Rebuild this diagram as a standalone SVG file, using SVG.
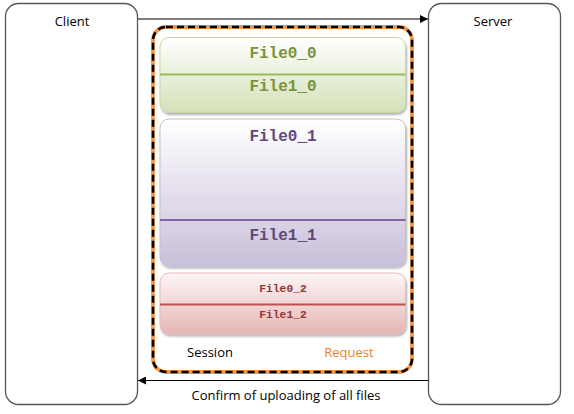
<svg xmlns="http://www.w3.org/2000/svg" width="574" height="414" viewBox="0 0 574 414">
<defs>
<style>
.actor{fill:#fff;stroke:#555;stroke-width:1.3}
.lbl{font-family:"Open Sans","Liberation Sans",sans-serif;font-size:13px;text-anchor:middle}
.mono{font-family:"Liberation Mono","Courier New",monospace;font-weight:bold;text-anchor:middle}
.conn{stroke:#000;stroke-width:1.2;fill:none}
</style>
<linearGradient id="gG" x1="0" y1="0" x2="0" y2="1"><stop offset="0" stop-color="#ffffff"/><stop offset="1" stop-color="#d3e1b8"/></linearGradient>
<linearGradient id="gP" x1="0" y1="0" x2="0" y2="1"><stop offset="0" stop-color="#ffffff"/><stop offset="1" stop-color="#c9bfd9"/></linearGradient>
<linearGradient id="gR" x1="0" y1="0" x2="0" y2="1"><stop offset="0" stop-color="#fdf6f6"/><stop offset="1" stop-color="#e5b6b5"/></linearGradient>
<filter id="sh" x="-5%" y="-5%" width="110%" height="115%"><feDropShadow dx="1" dy="2" stdDeviation="1.2" flood-color="#000" flood-opacity="0.3"/></filter>
<marker id="ah" viewBox="0 0 10 10" refX="10" refY="5" markerWidth="10" markerHeight="8" orient="auto" markerUnits="userSpaceOnUse"><path d="M0,0 L10,5 L0,10 z" fill="#000"/></marker>
</defs>
<rect width="574" height="414" fill="#fff"/>
<g id="client"><rect class="actor" x="5.5" y="3.5" width="132" height="401" rx="13"/><text class="lbl" x="72" y="26">Client</text></g>
<g id="server"><rect class="actor" x="428.5" y="3.5" width="132" height="401" rx="13"/><text class="lbl" x="493" y="26">Server</text></g>
<g id="connectors">
<line class="conn" x1="138" y1="19" x2="428" y2="19" marker-end="url(#ah)"/>
<line class="conn" x1="428" y1="380.5" x2="138" y2="380.5" marker-end="url(#ah)"/>
<text class="lbl" x="286" y="400">Confirm of uploading of all files</text>
</g>
<g id="request">
<rect x="153" y="27" width="259" height="345" rx="13" fill="#fff" stroke="#f79646" stroke-width="3.8"/>
<rect x="153" y="27" width="259" height="345" rx="13" fill="none" stroke="#000" stroke-width="2.6" stroke-dasharray="7 4"/>
<text class="lbl" x="210" y="357" fill="#000">Session</text>
<text class="lbl" x="349" y="357" fill="#f07f1e">Request</text>
</g>
<g id="file0">
<rect x="160" y="37.5" width="245.5" height="75" rx="9" fill="url(#gG)" stroke="#c5d8a4" stroke-width="1" filter="url(#sh)"/>
<line x1="160" y1="74.5" x2="405.5" y2="74.5" stroke="#9bbb59" stroke-width="2"/>
<text class="mono" x="283" y="58" font-size="16" fill="#77933c">File0_0</text>
<text class="mono" x="283" y="91" font-size="16" fill="#77933c">File1_0</text>
</g>
<g id="file1">
<rect x="160" y="119" width="245.5" height="147" rx="9" fill="url(#gP)" stroke="#c6bcd8" stroke-width="1" filter="url(#sh)"/>
<line x1="160" y1="220" x2="405.5" y2="220" stroke="#8064a2" stroke-width="2"/>
<text class="mono" x="283" y="140.5" font-size="16" fill="#5f497a">File0_1</text>
<text class="mono" x="283" y="240" font-size="16" fill="#5f497a">File1_1</text>
</g>
<g id="file2">
<rect x="160" y="273" width="245.5" height="61" rx="9" fill="url(#gR)" stroke="#e6b9b8" stroke-width="1" filter="url(#sh)"/>
<line x1="160" y1="304.5" x2="405.5" y2="304.5" stroke="#c0504d" stroke-width="2"/>
<text class="mono" x="283" y="292" font-size="11.3" fill="#943634">File0_2</text>
<text class="mono" x="283" y="318" font-size="11.3" fill="#943634">File1_2</text>
</g>
</svg>
